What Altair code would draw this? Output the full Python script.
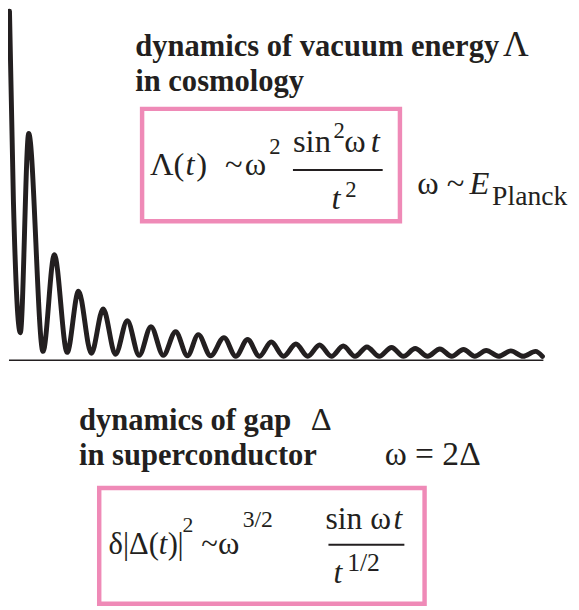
import altair as alt
import pandas as pd

# ---- curve: t (time, px-like units), amplitude above baseline ----
curve_t = [-0.5, 3.5, 10.5, 19, 33.5, 45, 58, 69.5, 82.5, 94.5, 107, 119, 131, 143, 155.5,
           168, 180, 191, 203.5, 217, 229, 241, 253, 265, 277.5, 290, 302, 314, 326, 338,
           350, 362, 374.5, 387, 399, 411, 423.5, 436, 448, 460, 471.5, 483, 495.5, 508,
           520.5, 533, 540]
curve_amp = [354, 161, 28, 230, 9, 107, 8, 70, 7, 52, 6, 40, 5, 34, 5,
             29, 4.5, 26, 4.5, 23, 4, 21, 4, 18.5, 4, 16.5, 4, 15.5, 4, 14.5,
             4, 13.5, 4, 13, 4, 12, 4, 11.5, 4, 11, 4, 10, 4, 9.5,
             4, 9, 4]

# baseline (time axis)
base_t0 = [-1]
base_t1 = [541]
base_amp = [0]

# annotation boxes
box_t0 = [134, 90.5]
box_t1 = [395.5, 420.5]
box_a0 = [255, -129.5]
box_a1 = [141, -247]

# fraction bars
bar_t0 = [287, 323]
bar_t1 = [378, 400]
bar_a = [193, -187]

# text pieces
txt = ["dynamics of vacuum energy", "in cosmology", "dynamics of gap", "in superconductor",
       "Λ", "Δ",
       "Λ(", ")", "~", "ω", "2", "sin", "2", "ω", "2", "ω ~", "Planck",
       "ω = 2Δ",
       "δ|Δ(", ")", "|", "2", "~", "ω", "3/2", "sin ω", "1/2",
       "t", "t", "t", "E", "t", "t", "t"]
txt_t = [127, 127, 70, 70,
         500, 305,
         142, 189, 218, 238, 263, 287, 328, 339, 340, 413, 489,
         380,
         100, 160, 170, 175, 194, 211, 236, 320, 342,
         178, 366, 326, 466, 151, 389, 328]
txt_a = [309, 273, -71, -106,
         309, -71,
         188, 188, 188, 188, 209, 211, 225, 211, 166, 169, 157,
         -106,
         -196, -196, -196, -174, -196, -196, -169, -171, -214,
         188, 211, 153, 169, -196, -171, -226]
txt_size = [31, 31, 31, 31,
            36, 33,
            33, 33, 33, 33, 23, 33, 23, 33, 23, 33, 28,
            34,
            31, 31, 31, 22, 31, 33, 24, 32, 26,
            33, 33, 33, 33, 31, 32, 32]
txt_style = (["bold"] * 4 + ["regular"] * 2 + ["regular"] * 11 + ["regular"]
             + ["regular"] * 9 + ["italic"] * 7)

INK = "#231f20"
PINK = "#ef8ab7"
FONT = "Liberation Serif"

X = alt.Scale(domain=[-2, 569], nice=False, zero=False)
Y = alt.Scale(domain=[-249, 353], nice=False, zero=False)

curve_df = pd.DataFrame({"t": curve_t, "a": curve_amp})
base_df = pd.DataFrame({"t0": base_t0, "t1": base_t1, "a": base_amp})
box_df = pd.DataFrame({"t0": box_t0, "t1": box_t1, "a0": box_a0, "a1": box_a1})
bar_df = pd.DataFrame({"t0": bar_t0, "t1": bar_t1, "a": bar_a})
txt_df = pd.DataFrame({"txt": txt, "t": txt_t, "a": txt_a, "size": txt_size, "style": txt_style})

baseline = alt.Chart(base_df).mark_rule(color=INK, strokeWidth=1.5).encode(
    x=alt.X("t0:Q", scale=X, axis=None), x2="t1:Q",
    y=alt.Y("a:Q", scale=Y, axis=None))

curve = alt.Chart(curve_df).mark_line(
    interpolate="monotone", color=INK, strokeWidth=5, strokeCap="round", strokeJoin="round"
).encode(x=alt.X("t:Q", scale=X, axis=None), y=alt.Y("a:Q", scale=Y, axis=None))

boxes = alt.Chart(box_df).mark_rect(fillOpacity=0, stroke=PINK, strokeWidth=4.5).encode(
    x=alt.X("t0:Q", scale=X, axis=None), x2="t1:Q",
    y=alt.Y("a0:Q", scale=Y, axis=None), y2="a1:Q")

bars = alt.Chart(bar_df).mark_rule(color=INK, strokeWidth=2).encode(
    x=alt.X("t0:Q", scale=X, axis=None), x2="t1:Q",
    y=alt.Y("a:Q", scale=Y, axis=None))


def text_layer(style, **kw):
    return alt.Chart(txt_df).transform_filter(alt.datum.style == style).mark_text(
        align="left", baseline="alphabetic", font=FONT, color=INK, **kw
    ).encode(
        x=alt.X("t:Q", scale=X, axis=None), y=alt.Y("a:Q", scale=Y, axis=None),
        text="txt:N", size=alt.Size("size:Q", scale=None, legend=None))


texts = [text_layer("bold", fontWeight="bold"),
         text_layer("regular"),
         text_layer("italic", fontStyle="italic")]

chart = alt.layer(baseline, curve, boxes, bars, *texts).properties(
    width=571, height=602, padding=0, autosize="none", background="white"
).configure_view(strokeWidth=0)

chart.save("out.html", embed_options={"renderer": "svg", "actions": False})
